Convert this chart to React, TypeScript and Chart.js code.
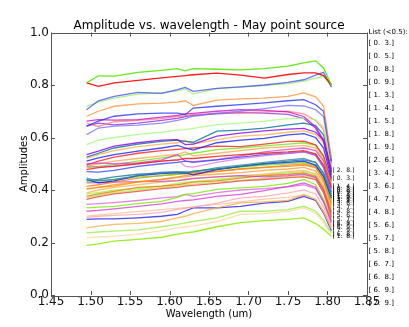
import React, { useEffect, useRef } from 'react';
import { Chart, registerables } from 'chart.js';
Chart.register(...registerables);

// wavelength grid (um)
const wavelengths = [1.495, 1.51, 1.53, 1.56, 1.59, 1.61, 1.62, 1.63, 1.66, 1.69, 1.72, 1.75, 1.77, 1.785, 1.795, 1.805];

// amplitude per baseline pair
const amp_0_1 = [0.808, 0.835, 0.834, 0.848, 0.856, 0.862, 0.854, 0.862, 0.860, 0.858, 0.862, 0.872, 0.884, 0.892, 0.865, 0.800];
const amp_0_2 = [0.808, 0.795, 0.808, 0.818, 0.827, 0.833, 0.836, 0.839, 0.845, 0.838, 0.826, 0.840, 0.846, 0.846, 0.836, 0.802];
const amp_0_3 = [0.510, 0.522, 0.535, 0.548, 0.560, 0.570, 0.560, 0.552, 0.580, 0.590, 0.597, 0.610, 0.615, 0.600, 0.560, 0.444];
const amp_0_4 = [0.706, 0.740, 0.757, 0.772, 0.768, 0.782, 0.791, 0.776, 0.787, 0.793, 0.800, 0.810, 0.820, 0.838, 0.848, 0.792];
const amp_0_5 = [0.478, 0.485, 0.490, 0.500, 0.510, 0.515, 0.520, 0.520, 0.528, 0.535, 0.540, 0.545, 0.550, 0.538, 0.495, 0.407];
const amp_0_6 = [0.719, 0.735, 0.750, 0.765, 0.770, 0.778, 0.785, 0.766, 0.786, 0.792, 0.798, 0.805, 0.815, 0.826, 0.833, 0.795];
const amp_0_7 = [0.681, 0.700, 0.719, 0.728, 0.731, 0.735, 0.740, 0.722, 0.742, 0.747, 0.750, 0.757, 0.770, 0.755, 0.720, 0.518];
const amp_0_8 = [0.490, 0.488, 0.492, 0.500, 0.510, 0.515, 0.490, 0.487, 0.505, 0.520, 0.530, 0.540, 0.545, 0.535, 0.490, 0.400];
const amp_0_9 = [0.470, 0.468, 0.475, 0.490, 0.500, 0.505, 0.510, 0.505, 0.515, 0.525, 0.535, 0.540, 0.545, 0.532, 0.485, 0.392];
const amp_1_2 = [0.643, 0.662, 0.681, 0.690, 0.693, 0.693, 0.687, 0.712, 0.719, 0.725, 0.732, 0.740, 0.744, 0.725, 0.700, 0.510];
const amp_1_3 = [0.445, 0.435, 0.440, 0.455, 0.468, 0.470, 0.470, 0.468, 0.485, 0.495, 0.505, 0.515, 0.520, 0.505, 0.465, 0.385];
const amp_1_4 = [0.500, 0.502, 0.500, 0.503, 0.515, 0.535, 0.510, 0.508, 0.516, 0.530, 0.545, 0.555, 0.560, 0.550, 0.510, 0.414];
const amp_1_5 = [0.436, 0.440, 0.450, 0.460, 0.465, 0.468, 0.462, 0.472, 0.480, 0.490, 0.500, 0.510, 0.515, 0.505, 0.462, 0.377];
const amp_1_6 = [0.662, 0.668, 0.666, 0.668, 0.678, 0.684, 0.690, 0.692, 0.700, 0.706, 0.703, 0.698, 0.680, 0.640, 0.590, 0.480];
const amp_1_7 = [0.611, 0.636, 0.643, 0.647, 0.655, 0.665, 0.672, 0.681, 0.693, 0.700, 0.710, 0.722, 0.720, 0.706, 0.680, 0.503];
const amp_1_8 = [0.189, 0.195, 0.205, 0.212, 0.220, 0.232, 0.237, 0.240, 0.260, 0.276, 0.283, 0.288, 0.294, 0.272, 0.250, 0.224];
const amp_1_9 = [0.440, 0.427, 0.435, 0.455, 0.462, 0.465, 0.465, 0.458, 0.478, 0.490, 0.500, 0.505, 0.510, 0.495, 0.452, 0.370];
const amp_2_3 = [0.573, 0.590, 0.600, 0.612, 0.620, 0.628, 0.630, 0.635, 0.649, 0.655, 0.662, 0.672, 0.674, 0.668, 0.640, 0.488];
const amp_2_4 = [0.655, 0.642, 0.660, 0.665, 0.672, 0.680, 0.683, 0.687, 0.692, 0.695, 0.698, 0.700, 0.690, 0.665, 0.630, 0.495];
const amp_2_5 = [0.535, 0.548, 0.567, 0.580, 0.590, 0.592, 0.573, 0.575, 0.605, 0.617, 0.625, 0.632, 0.635, 0.620, 0.590, 0.458];
const amp_2_6 = [0.430, 0.435, 0.440, 0.450, 0.455, 0.460, 0.465, 0.470, 0.480, 0.487, 0.495, 0.500, 0.505, 0.492, 0.448, 0.363];
const amp_2_7 = [0.525, 0.540, 0.560, 0.575, 0.585, 0.590, 0.585, 0.582, 0.624, 0.628, 0.636, 0.648, 0.655, 0.645, 0.610, 0.466];
const amp_2_8 = [0.643, 0.655, 0.648, 0.655, 0.665, 0.673, 0.680, 0.684, 0.690, 0.695, 0.693, 0.688, 0.672, 0.635, 0.585, 0.473];
const amp_2_9 = [0.495, 0.510, 0.525, 0.540, 0.550, 0.555, 0.558, 0.560, 0.567, 0.565, 0.575, 0.585, 0.586, 0.572, 0.530, 0.436];
const amp_3_4 = [0.405, 0.410, 0.415, 0.430, 0.440, 0.450, 0.455, 0.460, 0.470, 0.480, 0.485, 0.495, 0.500, 0.488, 0.442, 0.355];
const amp_3_5 = [0.520, 0.535, 0.550, 0.565, 0.575, 0.580, 0.590, 0.575, 0.592, 0.605, 0.610, 0.620, 0.625, 0.612, 0.580, 0.451];
const amp_3_6 = [0.414, 0.420, 0.430, 0.445, 0.455, 0.460, 0.462, 0.465, 0.472, 0.480, 0.487, 0.490, 0.495, 0.485, 0.438, 0.348];
const amp_3_7 = [0.484, 0.490, 0.497, 0.510, 0.522, 0.530, 0.535, 0.540, 0.554, 0.560, 0.568, 0.575, 0.580, 0.570, 0.525, 0.429];
const amp_3_8 = [0.402, 0.410, 0.420, 0.432, 0.440, 0.447, 0.450, 0.455, 0.460, 0.466, 0.475, 0.480, 0.486, 0.472, 0.428, 0.341];
const amp_3_9 = [0.364, 0.375, 0.385, 0.395, 0.405, 0.410, 0.415, 0.418, 0.425, 0.435, 0.440, 0.447, 0.450, 0.440, 0.390, 0.296];
const amp_4_5 = [0.427, 0.428, 0.430, 0.432, 0.433, 0.436, 0.440, 0.443, 0.450, 0.455, 0.450, 0.455, 0.460, 0.448, 0.400, 0.311];
const amp_4_6 = [0.490, 0.500, 0.510, 0.520, 0.530, 0.536, 0.545, 0.530, 0.540, 0.550, 0.560, 0.565, 0.570, 0.560, 0.515, 0.421];
const amp_4_7 = [0.389, 0.400, 0.410, 0.420, 0.430, 0.435, 0.440, 0.445, 0.450, 0.455, 0.460, 0.470, 0.475, 0.462, 0.415, 0.333];
const amp_4_8 = [0.376, 0.385, 0.395, 0.410, 0.415, 0.420, 0.425, 0.430, 0.435, 0.445, 0.455, 0.460, 0.465, 0.452, 0.405, 0.318];
const amp_4_9 = [0.319, 0.322, 0.328, 0.338, 0.347, 0.357, 0.360, 0.362, 0.376, 0.383, 0.398, 0.414, 0.427, 0.410, 0.355, 0.281];
const amp_5_6 = [0.370, 0.380, 0.390, 0.400, 0.410, 0.415, 0.420, 0.422, 0.430, 0.437, 0.445, 0.452, 0.455, 0.445, 0.395, 0.304];
const amp_5_7 = [0.332, 0.335, 0.338, 0.348, 0.357, 0.372, 0.383, 0.386, 0.402, 0.408, 0.414, 0.425, 0.440, 0.420, 0.365, 0.289];
const amp_5_8 = [0.345, 0.348, 0.352, 0.360, 0.370, 0.375, 0.383, 0.376, 0.390, 0.400, 0.405, 0.412, 0.420, 0.405, 0.355, 0.274];
const amp_5_9 = [0.237, 0.240, 0.243, 0.248, 0.260, 0.269, 0.275, 0.280, 0.294, 0.319, 0.319, 0.325, 0.338, 0.320, 0.285, 0.237];
const amp_6_7 = [0.295, 0.300, 0.303, 0.307, 0.315, 0.326, 0.330, 0.335, 0.350, 0.370, 0.376, 0.389, 0.400, 0.385, 0.335, 0.267];
const amp_6_8 = [0.218, 0.221, 0.224, 0.232, 0.245, 0.256, 0.260, 0.262, 0.280, 0.307, 0.310, 0.319, 0.332, 0.312, 0.275, 0.230];
const amp_6_9 = [0.256, 0.262, 0.269, 0.273, 0.280, 0.294, 0.300, 0.310, 0.332, 0.351, 0.355, 0.360, 0.383, 0.365, 0.318, 0.259];
const amp_7_8 = [0.300, 0.305, 0.310, 0.318, 0.325, 0.330, 0.333, 0.336, 0.345, 0.355, 0.365, 0.372, 0.380, 0.365, 0.318, 0.252];
const amp_7_9 = [0.288, 0.290, 0.290, 0.294, 0.300, 0.307, 0.320, 0.332, 0.332, 0.338, 0.350, 0.357, 0.376, 0.360, 0.312, 0.245];
const amp_8_9 = [0.385, 0.390, 0.400, 0.405, 0.415, 0.425, 0.430, 0.432, 0.440, 0.450, 0.457, 0.465, 0.470, 0.458, 0.410, 0.326];

// baselines listed on the right (amplitude < 0.5)
const listTitle = 'List (<0.5):';
const listPairs = [
  [0, 3], [0, 5], [0, 8], [0, 9], [1, 3], [1, 4], [1, 5], [1, 8], [1, 9], [2, 6], [3, 4],
  [3, 6], [4, 7], [4, 8], [5, 6], [5, 7], [5, 8], [6, 7], [6, 8], [6, 9], [7, 9],
];
// baselines annotated at the end of their curve
const endLabelPairs = [[2, 8], ...listPairs];

const series = [
  { pair: [0, 1], amp: amp_0_1, color: 'rgba(85,230,0,0.9)' },
  { pair: [0, 2], amp: amp_0_2, color: 'rgba(255,0,0,0.9)' },
  { pair: [0, 3], amp: amp_0_3, color: 'rgba(20,30,255,0.8)' },
  { pair: [0, 4], amp: amp_0_4, color: 'rgba(60,70,255,0.75)' },
  { pair: [0, 5], amp: amp_0_5, color: 'rgba(235,20,20,0.8)' },
  { pair: [0, 6], amp: amp_0_6, color: 'rgba(140,240,90,0.75)' },
  { pair: [0, 7], amp: amp_0_7, color: 'rgba(255,140,50,0.75)' },
  { pair: [0, 8], amp: amp_0_8, color: 'rgba(230,100,220,0.7)' },
  { pair: [0, 9], amp: amp_0_9, color: 'rgba(50,70,255,0.8)' },
  { pair: [1, 2], amp: amp_1_2, color: 'rgba(30,40,240,0.75)' },
  { pair: [1, 3], amp: amp_1_3, color: 'rgba(50,130,160,0.75)' },
  { pair: [1, 4], amp: amp_1_4, color: 'rgba(210,60,200,0.75)' },
  { pair: [1, 5], amp: amp_1_5, color: 'rgba(20,120,150,0.8)' },
  { pair: [1, 6], amp: amp_1_6, color: 'rgba(200,0,200,0.75)' },
  { pair: [1, 7], amp: amp_1_7, color: 'rgba(100,100,255,0.7)' },
  { pair: [1, 8], amp: amp_1_8, color: 'rgba(140,235,0,0.85)' },
  { pair: [1, 9], amp: amp_1_9, color: 'rgba(20,20,230,0.8)' },
  { pair: [2, 3], amp: amp_2_3, color: 'rgba(160,250,120,0.75)' },
  { pair: [2, 4], amp: amp_2_4, color: 'rgba(255,110,110,0.7)' },
  { pair: [2, 5], amp: amp_2_5, color: 'rgba(130,0,230,0.8)' },
  { pair: [2, 6], amp: amp_2_6, color: 'rgba(100,220,30,0.75)' },
  { pair: [2, 7], amp: amp_2_7, color: 'rgba(0,110,150,0.8)' },
  { pair: [2, 8], amp: amp_2_8, color: 'rgba(140,30,220,0.75)' },
  { pair: [2, 9], amp: amp_2_9, color: 'rgba(255,30,30,0.8)' },
  { pair: [3, 4], amp: amp_3_4, color: 'rgba(255,136,0,0.75)' },
  { pair: [3, 5], amp: amp_3_5, color: 'rgba(255,170,60,0.75)' },
  { pair: [3, 6], amp: amp_3_6, color: 'rgba(255,120,20,0.8)' },
  { pair: [3, 7], amp: amp_3_7, color: 'rgba(110,230,20,0.8)' },
  { pair: [3, 8], amp: amp_3_8, color: 'rgba(255,150,40,0.75)' },
  { pair: [3, 9], amp: amp_3_9, color: 'rgba(255,60,60,0.8)' },
  { pair: [4, 5], amp: amp_4_5, color: 'rgba(200,60,200,0.75)' },
  { pair: [4, 6], amp: amp_4_6, color: 'rgba(255,160,60,0.75)' },
  { pair: [4, 7], amp: amp_4_7, color: 'rgba(255,175,80,0.75)' },
  { pair: [4, 8], amp: amp_4_8, color: 'rgba(255,110,10,0.8)' },
  { pair: [4, 9], amp: amp_4_9, color: 'rgba(205,50,205,0.75)' },
  { pair: [5, 6], amp: amp_5_6, color: 'rgba(170,235,80,0.75)' },
  { pair: [5, 7], amp: amp_5_7, color: 'rgba(120,235,0,0.8)' },
  { pair: [5, 8], amp: amp_5_8, color: 'rgba(220,90,220,0.75)' },
  { pair: [5, 9], amp: amp_5_9, color: 'rgba(150,235,60,0.75)' },
  { pair: [6, 7], amp: amp_6_7, color: 'rgba(255,160,170,0.75)' },
  { pair: [6, 8], amp: amp_6_8, color: 'rgba(255,215,160,0.8)' },
  { pair: [6, 9], amp: amp_6_9, color: 'rgba(255,170,50,0.75)' },
  { pair: [7, 8], amp: amp_7_8, color: 'rgba(255,185,150,0.75)' },
  { pair: [7, 9], amp: amp_7_9, color: 'rgba(30,30,235,0.8)' },
  { pair: [8, 9], amp: amp_8_9, color: 'rgba(140,255,40,0.75)' },
];

const xTicks = [1.45, 1.5, 1.55, 1.6, 1.65, 1.7, 1.75, 1.8, 1.85];
const yTicks = [0, 0.2, 0.4, 0.6, 0.8, 1.0];

const fmtPair = (p: number[]) => `[ ${p[0]}.  ${p[1]}.]`;
const FONT = '"DejaVu Sans", "Liberation Sans", sans-serif';

export default function App() {
  const ref = useRef<HTMLCanvasElement | null>(null);
  useEffect(() => {
    const deco = {
      id: 'deco',
      afterDraw(chart: any) {
        const { ctx, chartArea: ca, scales } = chart;
        const sx = scales.x, sy = scales.y;
        ctx.save();
        // frame
        ctx.strokeStyle = '#555';
        ctx.lineWidth = 1;
        ctx.strokeRect(Math.round(ca.left) + 0.5, Math.round(ca.top) + 0.5, Math.round(ca.right - ca.left), Math.round(ca.bottom - ca.top));
        // inward ticks on all sides
        const tl = 4;
        ctx.beginPath();
        xTicks.forEach((t) => {
          const x = Math.round(sx.getPixelForValue(t)) + 0.5;
          ctx.moveTo(x, ca.bottom); ctx.lineTo(x, ca.bottom - tl);
          ctx.moveTo(x, ca.top); ctx.lineTo(x, ca.top + tl);
        });
        yTicks.forEach((t) => {
          const y = Math.round(sy.getPixelForValue(t)) + 0.5;
          ctx.moveTo(ca.left, y); ctx.lineTo(ca.left + tl, y);
          ctx.moveTo(ca.right, y); ctx.lineTo(ca.right - tl, y);
        });
        ctx.stroke();
        // title
        ctx.fillStyle = '#000';
        ctx.font = `12px ${FONT}`;
        ctx.textAlign = 'center';
        ctx.textBaseline = 'alphabetic';
        const cx = (ca.left + ca.right) / 2;
        ctx.fillText('Amplitude vs. wavelength - May point source', cx, ca.top - 4);
        // x title
        ctx.font = `10px ${FONT}`;
        ctx.fillText('Wavelength (um)', cx, 316.5);
        // y title
        ctx.save();
        ctx.translate(27, (ca.top + ca.bottom) / 2);
        ctx.rotate(-Math.PI / 2);
        ctx.textBaseline = 'alphabetic';
        ctx.fillText('Amplitudes', 0, 0);
        ctx.restore();
        // list on the right
        ctx.textAlign = 'left';
        ctx.textBaseline = 'middle';
        ctx.font = `7px ${FONT}`;
        const lx = ca.right + 1.5;
        ctx.fillText(listTitle, lx, ca.top);
        listPairs.forEach((p, i) => {
          ctx.fillText(fmtPair(p), lx, ca.top + 10.5 + i * 13.0);
        });
        // end labels
        ctx.font = `6px ${FONT}`;
        const lastX = wavelengths[wavelengths.length - 1];
        endLabelPairs.forEach((p) => {
          const s = series.find((q) => q.pair[0] === p[0] && q.pair[1] === p[1]);
          if (!s) return;
          const x = sx.getPixelForValue(lastX) + 1;
          const y = sy.getPixelForValue(s.amp[s.amp.length - 1]);
          ctx.fillText(fmtPair(p), x, y);
        });
        ctx.restore();
      },
    };

    const chart = new Chart(ref.current as HTMLCanvasElement, {
      type: 'line',
      data: {
        datasets: series.map((s) => ({
          label: fmtPair(s.pair),
          data: wavelengths.map((w, i) => ({ x: w, y: s.amp[i] })),
          borderColor: s.color,
          backgroundColor: s.color,
          borderWidth: 1.3,
          pointRadius: 0,
          tension: 0,
          fill: false,
        })),
      },
      options: {
        animation: false,
        responsive: false,
        devicePixelRatio: 1,
        layout: { padding: { top: 32.5, right: 42, left: 0, bottom: 0 } },
        plugins: { legend: { display: false }, title: { display: false }, tooltip: { enabled: false } },
        scales: {
          x: {
            type: 'linear',
            min: 1.45,
            max: 1.85,
            afterBuildTicks: (s: any) => { s.ticks = xTicks.map((v) => ({ value: v })); },
            ticks: {
              callback: (v: any) => Number(v).toFixed(2),
              font: { family: FONT, size: 12 },
              color: '#111',
              padding: 0,
              maxRotation: 0,
              autoSkip: false,
            },
            grid: { display: false, drawTicks: false },
            border: { display: false },
            afterFit: (s: any) => { s.height = 32; },
          },
          y: {
            min: 0,
            max: 1,
            afterBuildTicks: (s: any) => { s.ticks = yTicks.map((v) => ({ value: v })); },
            ticks: {
              callback: (v: any) => Number(v).toFixed(1),
              font: { family: FONT, size: 12 },
              color: '#111',
              padding: 2,
            },
            grid: { display: false, drawTicks: false },
            border: { display: false },
            afterFit: (s: any) => { s.width = 51; },
          },
        },
      },
      plugins: [deco],
    });
    return () => chart.destroy();
  }, []);
  return <canvas ref={ref} width={409} height={327} style={{ position: 'absolute', left: 0, top: 0 }} />;
}
